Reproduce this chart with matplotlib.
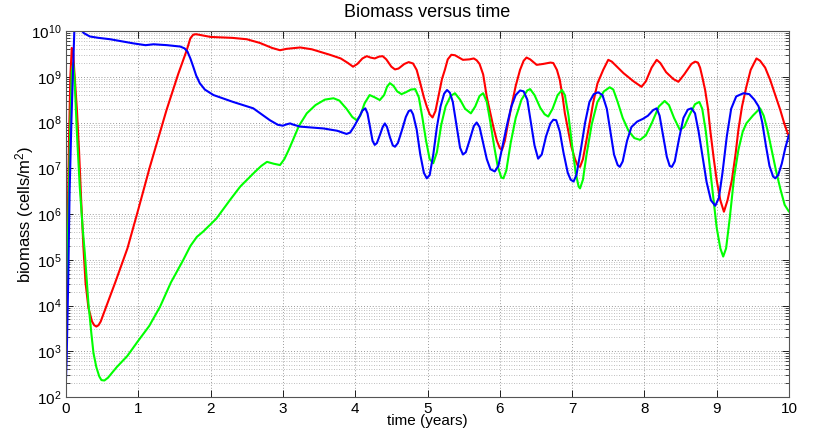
import matplotlib
matplotlib.use("Agg")
import matplotlib.pyplot as plt
import numpy as np
from matplotlib.ticker import LogLocator, FixedLocator, NullFormatter

plt.rcParams['font.family'] = ['Liberation Sans', 'DejaVu Sans']
plt.rcParams['mathtext.fontset'] = 'custom'
plt.rcParams['mathtext.rm'] = 'Liberation Sans'
plt.rcParams['mathtext.it'] = 'Liberation Sans'

# ---- data (time in years, biomass given as log10 of cells/m^2) ----
red_t = [0, 0.02, 0.04, 0.06, 0.08, 0.10, 0.12, 0.15, 0.18, 0.21, 0.24, 0.27, 0.31, 0.36,
         0.39, 0.42, 0.45, 0.48, 0.55, 0.68, 0.85, 1.0, 1.16, 1.39, 1.55, 1.67, 1.72, 1.76,
         1.80, 1.9, 2.0, 2.3, 2.5, 2.68, 2.85, 2.96, 3.05, 3.24, 3.4, 3.65, 3.8, 3.9, 3.97,
         4.03, 4.1, 4.16, 4.21, 4.27, 4.33, 4.38, 4.43, 4.5, 4.55, 4.6, 4.68, 4.74, 4.80,
         4.85, 4.90, 4.95, 4.99, 5.03, 5.07, 5.11, 5.15, 5.2, 5.24, 5.28, 5.33, 5.38, 5.49,
         5.58, 5.64, 5.68, 5.72, 5.77, 5.82, 5.87, 5.91, 5.96, 6.0, 6.03, 6.07, 6.11, 6.16,
         6.22, 6.28, 6.33, 6.37, 6.42, 6.51, 6.6, 6.7, 6.74, 6.79, 6.83, 6.87, 6.90, 6.95,
         6.99, 7.04, 7.08, 7.11, 7.15, 7.2, 7.25, 7.29, 7.35, 7.43, 7.50, 7.55, 7.71, 7.85,
         7.96, 8.02, 8.1, 8.17, 8.22, 8.30, 8.4, 8.47, 8.55, 8.65, 8.70, 8.74, 8.77, 8.80,
         8.84, 8.88, 8.91, 8.96, 9.0, 9.05, 9.10, 9.15, 9.21, 9.26, 9.30, 9.35, 9.41, 9.47,
         9.55, 9.6, 9.67, 9.74, 9.81, 9.88, 9.94, 10.0]
red_log = [3.0, 5.5, 7.5, 9.0, 9.63, 9.5, 9.0, 8.3, 7.4, 6.3, 5.3, 4.5, 3.95, 3.65,
           3.57, 3.54, 3.57, 3.65, 3.95, 4.5, 5.25, 6.1, 7.03, 8.27, 9.05, 9.58, 9.84, 9.92,
           9.93, 9.9, 9.87, 9.85, 9.82, 9.74, 9.63, 9.58, 9.61, 9.64, 9.6, 9.48, 9.4, 9.3, 9.22,
           9.28, 9.4, 9.45, 9.42, 9.40, 9.44, 9.45, 9.38, 9.22, 9.16, 9.18, 9.28, 9.32, 9.29,
           9.15, 8.86, 8.55, 8.35, 8.18, 8.11, 8.25, 8.56, 8.95, 9.15, 9.38, 9.48, 9.47, 9.37,
           9.38, 9.4, 9.36, 9.28, 9.05, 8.56, 8.2, 7.91, 7.6, 7.44, 7.40, 7.6, 7.95, 8.35,
           8.8, 9.15, 9.35, 9.42, 9.38, 9.26, 9.28, 9.31, 9.3, 9.15, 8.93, 8.55, 8.2, 7.8,
           7.47, 7.2, 7.05, 7.03, 7.2, 7.62, 8.05, 8.42, 8.85, 9.15, 9.37, 9.33, 9.08, 8.9,
           8.78, 8.9, 9.2, 9.37, 9.3, 9.1, 8.95, 8.89, 9.05, 9.28, 9.33, 9.31, 9.2, 9.0,
           8.71, 8.3, 7.84, 7.2, 6.74, 6.3, 6.05, 6.3, 6.74, 7.3, 7.84, 8.35, 8.78, 9.15,
           9.40, 9.35, 9.2, 8.93, 8.6, 8.27, 7.95, 7.69]

green_t = [0, 0.03, 0.06, 0.08, 0.10, 0.12, 0.15, 0.19, 0.23, 0.26, 0.31, 0.35, 0.38, 0.42,
           0.46, 0.49, 0.53, 0.58, 0.7, 0.85, 0.99, 1.15, 1.30, 1.45, 1.62, 1.72, 1.81, 1.90,
           1.99, 2.08, 2.27, 2.41, 2.6, 2.70, 2.78, 2.87, 2.96, 3.02, 3.08, 3.14, 3.22, 3.33,
           3.45, 3.58, 3.70, 3.78, 3.88, 3.96, 4.02, 4.07, 4.13, 4.20, 4.27, 4.34, 4.40, 4.44,
           4.48, 4.53, 4.58, 4.64, 4.7, 4.77, 4.83, 4.88, 4.93, 4.98, 5.03, 5.08, 5.13, 5.19,
           5.25, 5.32, 5.38, 5.45, 5.52, 5.6, 5.66, 5.72, 5.77, 5.82, 5.87, 5.92, 5.97, 6.02,
           6.05, 6.09, 6.15, 6.22, 6.3, 6.38, 6.42, 6.48, 6.56, 6.62, 6.67, 6.73, 6.8, 6.86,
           6.9, 6.95, 7.0, 7.05, 7.09, 7.11, 7.15, 7.2, 7.27, 7.35, 7.44, 7.52, 7.57, 7.63,
           7.7, 7.78, 7.86, 7.94, 8.02, 8.1, 8.2, 8.28, 8.34, 8.41, 8.49, 8.55, 8.62, 8.7,
           8.76, 8.8, 8.85, 8.9, 8.95, 9.0, 9.05, 9.09, 9.13, 9.18, 9.24, 9.3, 9.36, 9.41,
           9.5, 9.60, 9.65, 9.7, 9.76, 9.82, 9.88, 9.94, 10.0]
green_log = [4.0, 5.7, 8.0, 9.1, 9.3, 8.9, 7.8, 6.6, 5.7, 5.15, 4.05, 3.4, 2.96, 2.65,
             2.45, 2.37, 2.36, 2.42, 2.65, 2.9, 3.21, 3.55, 3.97, 4.5, 4.99, 5.3, 5.50, 5.62,
             5.76, 5.90, 6.31, 6.60, 6.9, 7.05, 7.14, 7.1, 7.07, 7.2, 7.4, 7.62, 7.92, 8.20,
             8.38, 8.5, 8.53, 8.48, 8.3, 8.12, 8.05, 8.15, 8.42, 8.60, 8.55, 8.49, 8.6, 8.78,
             8.86, 8.8, 8.68, 8.62, 8.66, 8.72, 8.73, 8.55, 8.1, 7.6, 7.2, 7.11, 7.35, 7.95,
             8.35, 8.58, 8.64, 8.5, 8.3, 8.2, 8.35, 8.58, 8.64, 8.45, 8.0, 7.5, 7.05, 6.8,
             6.78, 6.95, 7.55, 8.1, 8.5, 8.7, 8.73, 8.6, 8.32, 8.18, 8.13, 8.3, 8.6, 8.71,
             8.6, 8.15, 7.5, 6.9, 6.6, 6.56, 6.75, 7.3, 7.95, 8.45, 8.68, 8.77, 8.72, 8.45,
             8.1, 7.82, 7.66, 7.62, 7.72, 7.98, 8.35, 8.47, 8.38, 8.1, 7.84, 7.9, 8.15, 8.4,
             8.45, 8.3, 7.8, 7.1, 6.4, 5.7, 5.25, 5.07, 5.25, 5.9, 6.8, 7.4, 7.8, 7.98,
             8.15, 8.31, 8.15, 7.85, 7.4, 6.95, 6.55, 6.2, 6.05]

blue_t = [0, 0.01, 0.03, 0.05, 0.075, 0.10, 0.115, 0.16, 0.21, 0.25, 0.33, 0.45, 0.61, 0.93,
          1.1, 1.21, 1.4, 1.58, 1.64, 1.68, 1.72, 1.76, 1.80, 1.85, 1.92, 2.04, 2.31, 2.59,
          2.82, 2.93, 3.0, 3.05, 3.10, 3.15, 3.24, 3.56, 3.75, 3.88, 3.93, 3.98, 4.05, 4.1,
          4.14, 4.17, 4.21, 4.24, 4.27, 4.3, 4.34, 4.38, 4.41, 4.44, 4.48, 4.52, 4.55, 4.59,
          4.65, 4.7, 4.74, 4.77, 4.8, 4.85, 4.9, 4.95, 4.99, 5.03, 5.08, 5.13, 5.18, 5.23,
          5.27, 5.31, 5.35, 5.4, 5.45, 5.49, 5.53, 5.58, 5.64, 5.68, 5.72, 5.77, 5.82, 5.87,
          5.93, 5.98, 6.04, 6.1, 6.16, 6.22, 6.28, 6.33, 6.38, 6.43, 6.48, 6.53, 6.58, 6.64,
          6.7, 6.74, 6.78, 6.83, 6.88, 6.94, 6.98, 7.02, 7.06, 7.12, 7.18, 7.24, 7.3, 7.36,
          7.42, 7.48, 7.53, 7.58, 7.63, 7.66, 7.7, 7.76, 7.82, 7.9, 7.98, 8.05, 8.12, 8.17,
          8.21, 8.26, 8.31, 8.35, 8.38, 8.42, 8.48, 8.54, 8.6, 8.65, 8.7, 8.75, 8.8, 8.86,
          8.92, 8.98, 9.03, 9.08, 9.14, 9.2, 9.27, 9.37, 9.45, 9.52, 9.58, 9.63, 9.68, 9.73,
          9.78, 9.81, 9.85, 9.9, 9.95, 10.0]
blue_log = [2.4, 2.9, 4.5, 6.5, 8.05, 9.3, 10.0, 10.2, 10.02, 9.95, 9.88, 9.85, 9.82, 9.73,
            9.69, 9.71, 9.69, 9.66, 9.62, 9.55, 9.4, 9.22, 9.03, 8.86, 8.72, 8.60, 8.45, 8.31,
            8.05, 7.95, 7.93, 7.96, 7.98, 7.95, 7.91, 7.87, 7.82, 7.75, 7.78, 7.9, 8.1, 8.26,
            8.31, 8.2, 7.85, 7.6, 7.51, 7.55, 7.72, 7.9, 7.98, 7.9, 7.68, 7.5, 7.47, 7.55,
            7.85, 8.12, 8.25, 8.27, 8.18, 7.85, 7.3, 6.9, 6.78, 6.85, 7.3, 7.9, 8.35, 8.63,
            8.71, 8.65, 8.45, 7.95, 7.45, 7.3, 7.35, 7.6, 7.92, 8.0, 7.9, 7.55, 7.2, 6.98,
            6.93, 7.05, 7.5, 7.95, 8.35, 8.6, 8.7, 8.68, 8.5, 8.0, 7.5, 7.21, 7.3, 7.7,
            7.98, 8.06, 8.05, 7.8, 7.35, 6.9, 6.75, 6.71, 6.85, 7.4, 8.0, 8.45, 8.62, 8.66,
            8.6, 8.3, 7.8, 7.3, 7.07, 7.03, 7.15, 7.6, 7.9, 8.02, 8.08, 8.15, 8.27, 8.31,
            8.15, 7.7, 7.25, 7.05, 7.03, 7.15, 7.65, 8.1, 8.28, 8.31, 8.2, 7.8, 7.3, 6.7,
            6.3, 6.18, 6.35, 6.9, 7.7, 8.3, 8.57, 8.64, 8.62, 8.5, 8.35, 8.0, 7.5, 7.05,
            6.82, 6.78, 6.85, 7.1, 7.45, 7.73]

title = "Biomass versus time"
xlabel = "time (years)"
ylabel = r"biomass (cells/m$^2$)"
xticks = list(range(0, 11))

fig = plt.figure(figsize=(8.35, 4.32), dpi=100)
ax = fig.add_axes([66 / 835, 1 - 397 / 432, (789 - 66) / 835, (397 - 31) / 432])

for t, lg, c in [(red_t, red_log, '#ff0000'), (green_t, green_log, '#00ff00'),
                 (blue_t, blue_log, '#0000ff')]:
    ax.plot(t, 10.0 ** np.asarray(lg), color=c, lw=1.5, solid_joinstyle='round',
            solid_capstyle='round')

ax.set_yscale('log')
ax.set_xlim(0, 10)
ax.set_ylim(1e2, 1e10)
ax.xaxis.set_major_locator(FixedLocator(xticks))
ax.yaxis.set_major_locator(LogLocator(base=10, numticks=20))
ax.yaxis.set_minor_locator(LogLocator(base=10, subs=np.arange(2, 10), numticks=20))
ax.yaxis.set_minor_formatter(NullFormatter())

ax.grid(True, which='major', axis='both', color='#9a9a9a', linestyle=(0, (1, 2)), lw=0.7)
ax.grid(True, which='minor', axis='y', color='#a8a8a8', linestyle=(0, (1, 2)), lw=0.6)
ax.set_axisbelow(True)

ax.tick_params(which='both', direction='in', top=True, right=True, labelsize=11,
               colors='#000000')
ax.tick_params(which='major', length=5, width=0.6)
ax.tick_params(which='minor', length=3, width=0.5)
for s in ax.spines.values():
    s.set_color('#555555')
    s.set_linewidth(0.8)

ax.set_title(title, fontsize=13, pad=10)
ax.set_xlabel(xlabel, fontsize=11, labelpad=-1)
ax.set_ylabel(ylabel, fontsize=12, labelpad=-4)

fig.savefig("out.png", dpi=100)
